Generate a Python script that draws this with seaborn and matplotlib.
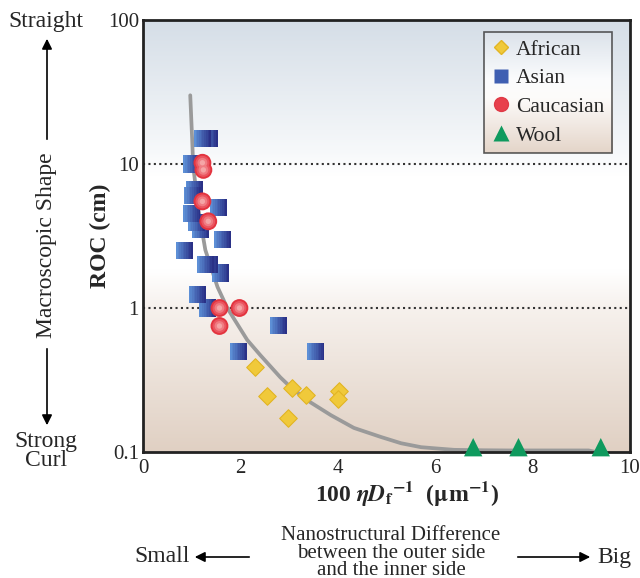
import numpy as np
import pandas as pd
import matplotlib
matplotlib.use("Agg")
import matplotlib.pyplot as plt
import seaborn as sns
from matplotlib.colors import LinearSegmentedColormap, to_rgb
from matplotlib.lines import Line2D
from matplotlib.path import Path
from matplotlib.patches import FancyArrowPatch

# ---------------- data ----------------
african_x = [2.29, 2.54, 3.05, 3.34, 2.97, 4.02, 4.00]
african_y = [0.39, 0.245, 0.278, 0.249, 0.172, 0.265, 0.233]

asian_x = [1.22, 1.36, 1.00, 1.05, 1.01, 1.55, 1.00, 1.10, 1.18, 1.63, 0.85,
           1.28, 1.36, 1.59, 1.11, 1.32, 2.78, 1.96, 3.55]
asian_y = [15.0, 15.0, 10.0, 6.6, 6.0, 5.0, 4.5, 3.95, 3.5, 2.97, 2.5,
           2.0, 2.0, 1.75, 1.25, 1.0, 0.75, 0.50, 0.50]

cauc_x = [1.22, 1.24, 1.22, 1.34, 1.57, 1.98, 1.57]
cauc_y = [10.2, 9.1, 5.5, 4.0, 1.0, 1.0, 0.75]

wool_x = [6.78, 7.71, 9.40]
wool_y = [0.108, 0.108, 0.108]

fit_x = [0.97, 1.01, 1.03, 1.13, 1.28, 1.53, 1.73, 2.14, 2.41, 2.82, 3.05,
         3.45, 3.86, 4.33, 4.89, 5.3, 5.71, 6.0, 6.39, 7.0, 7.5, 8.5, 9.15, 9.3]
fit_y = [30.0, 14.7, 9.8, 5.0, 2.53, 1.4, 1.0, 0.6, 0.47, 0.33, 0.278,
         0.22, 0.18, 0.147, 0.127, 0.115, 0.108, 0.106, 0.1035, 0.1028,
         0.1025, 0.1025, 0.1025, 0.1]

x_ticks = [0, 2, 4, 6, 8, 10]
y_ticks = [0.1, 1, 10, 100]
y_tick_labels = ["0.1", "1", "10", "100"]
series_names = ["African", "Asian", "Caucasian", "Wool"]

# ---------------- style ----------------
sns.set_theme(style="white")
plt.rcParams["font.family"] = ["Liberation Serif", "DejaVu Serif"]
plt.rcParams["mathtext.fontset"] = "stix"

fig = plt.figure(figsize=(6.4, 5.78), dpi=100)
ax = fig.add_axes([143 / 640, 1 - 452 / 578, (630 - 143) / 640, (452 - 20) / 578])

bg_cmap = LinearSegmentedColormap.from_list(
    "bg", [(0.0, "#d5dee7"), (0.30, "#f6f8fa"), (0.36, "#ffffff"),
           (0.58, "#ffffff"), (0.66, "#f7f2ee"), (1.0, "#e0d0c3")])
grad = np.linspace(0, 1, 256).reshape(-1, 1)
ax.imshow(grad, extent=[0, 1, 0, 1], transform=ax.transAxes, cmap=bg_cmap,
          aspect="auto", zorder=0, origin="upper")

ax.set_yscale("log")
ax.set_xlim(0, 10)
ax.set_ylim(0.1, 100)

for yv in [1, 10]:
    ax.axhline(yv, color="#333333", lw=1.5, ls=(0, (1, 1.6)), zorder=1)

# fit curve
sns.lineplot(x=fit_x, y=fit_y, sort=False, color="#9a9a9a", lw=2.7, ax=ax,
             zorder=2, estimator=None)

# Asian squares with a horizontal colour gradient (vertical strips)
sns.scatterplot(x=asian_x, y=asian_y, marker="s", s=150, color="#3f5fb2",
                edgecolor="none", linewidth=0, ax=ax, zorder=3)
light = np.array(to_rgb("#5d8fd6"))
dark = np.array(to_rgb("#2a3187"))
n_strips = 10
edges = np.linspace(-1, 1, n_strips + 1)
for i in range(n_strips):
    x0, x1 = edges[i], min(edges[i + 1] + 0.12, 1.0)
    strip = Path([(x0, -1), (x1, -1), (x1, 1), (x0, 1), (x0, -1)],
                 [Path.MOVETO, Path.LINETO, Path.LINETO, Path.LINETO, Path.CLOSEPOLY])
    t = i / (n_strips - 1)
    c = light * (1 - t) + dark * t
    sns.scatterplot(x=asian_x, y=asian_y, marker=strip, s=150, color=c,
                    edgecolor="none", linewidth=0, ax=ax, zorder=3)

sns.scatterplot(x=african_x, y=african_y, marker="D", s=80, color="#f0c93a",
                edgecolor="#e2b524", linewidth=0.8, ax=ax, zorder=4)
for s_, c_ in [(165, "#e3343f"), (100, "#ea5560"), (50, "#f07c82"), (15, "#f5a5a6")]:
    sns.scatterplot(x=cauc_x, y=cauc_y, marker="o", s=s_, color=c_,
                    edgecolor="none", linewidth=0, ax=ax, zorder=5)
sns.scatterplot(x=wool_x, y=wool_y, marker="^", s=175, color="#0f9a5e",
                edgecolor="none", linewidth=0, ax=ax, zorder=7, clip_on=False)

for sp in ax.spines.values():
    sp.set_color("#222222")
    sp.set_linewidth(2.0)
    sp.set_visible(True)
ax.set_xticks(x_ticks)
ax.set_xticklabels([str(v) for v in x_ticks])
ax.set_yticks(y_ticks)
ax.set_yticklabels(y_tick_labels)
ax.minorticks_off()
ax.tick_params(axis="x", direction="in", length=7, width=1.2, color="#222222",
               labelsize=15, pad=5, top=False)
ax.tick_params(axis="y", length=0, labelsize=15, pad=3)
ax.set_xlabel("")
ax.set_ylabel("")

# legend
handles = [
    Line2D([], [], ls="none", marker="D", ms=7.5, mfc="#f0c93a", mec="#e2b524"),
    Line2D([], [], ls="none", marker="s", ms=9.5, mfc="#3f5fb2", mec="none"),
    Line2D([], [], ls="none", marker="o", ms=10, mfc="#e8404c", mec="#e03a46"),
    Line2D([], [], ls="none", marker="^", ms=11, mfc="#0f9a5e", mec="none"),
]
leg = ax.legend(handles, series_names, loc="upper right",
                bbox_to_anchor=((612 - 143) / 487, (452 - 32) / 432),
                frameon=True, fontsize=15.5, handletextpad=0.25,
                handlelength=0.9, borderpad=0.35, labelspacing=0.4,
                fancybox=False, borderaxespad=0)
leg.get_frame().set_edgecolor("#333333")
leg.get_frame().set_linewidth(1.2)
leg.get_frame().set_facecolor("none")
leg.set_zorder(10)

fig.canvas.draw()
bb = leg.get_frame().get_window_extent().transformed(ax.transAxes.inverted())
leg_cmap = LinearSegmentedColormap.from_list(
    "lg", [(0.0, "#dbe2ea"), (0.4, "#fbfcfd"), (0.55, "#fdfbfa"), (1.0, "#e4d5c9")])
ax.imshow(grad, extent=[bb.x0, bb.x1, bb.y0, bb.y1], transform=ax.transAxes,
          cmap=leg_cmap, aspect="auto", zorder=9, origin="upper")

# axis labels
fig.text(100 / 640, 1 - 236 / 578, "ROC (cm)", rotation=90, ha="center",
         va="center", fontsize=17, fontweight="bold")
fig.text(407 / 640, 1 - 494 / 578,
         r"100 $\boldsymbol{\eta D}_{\mathbf{f}}$$^{\mathbf{-1}}$  ($\mathbf{\mu}$m$^{\mathbf{-1}}$)",
         ha="center", va="center", fontsize=17, fontweight="bold")

# left annotation
ann = 17
fig.text(46 / 640, 1 - 22 / 578, "Straight", ha="center", va="center", fontsize=ann)
fig.text(47 / 640, 1 - 245 / 578, "Macroscopic Shape", rotation=90, ha="center",
         va="center", fontsize=ann)
fig.text(46 / 640, 1 - 451 / 578, "Strong\nCurl", ha="center", va="center",
         fontsize=ann, linespacing=0.92)
arrow_kw = dict(arrowstyle="-|>", color="black", lw=1.2, mutation_scale=15)
fig.add_artist(FancyArrowPatch((47 / 640, 1 - 142 / 578), (47 / 640, 1 - 36 / 578),
                               transform=fig.transFigure, **arrow_kw))
fig.add_artist(FancyArrowPatch((47 / 640, 1 - 346 / 578), (47 / 640, 1 - 428 / 578),
                               transform=fig.transFigure, **arrow_kw))

# bottom annotation
fig.text(391 / 640, 1 - 553 / 578,
         "Nanostructural Difference\nbetween the outer side\nand the inner side",
         ha="center", va="center", fontsize=15, linespacing=0.86)
fig.text(162 / 640, 1 - 557 / 578, "Small", ha="center", va="center", fontsize=ann)
fig.text(614 / 640, 1 - 557 / 578, "Big", ha="center", va="center", fontsize=ann)
fig.add_artist(FancyArrowPatch((252 / 640, 1 - 557 / 578), (192 / 640, 1 - 557 / 578),
                               transform=fig.transFigure, **arrow_kw))
fig.add_artist(FancyArrowPatch((515 / 640, 1 - 557 / 578), (593 / 640, 1 - 557 / 578),
                               transform=fig.transFigure, **arrow_kw))

fig.savefig("out.png", dpi=100)
